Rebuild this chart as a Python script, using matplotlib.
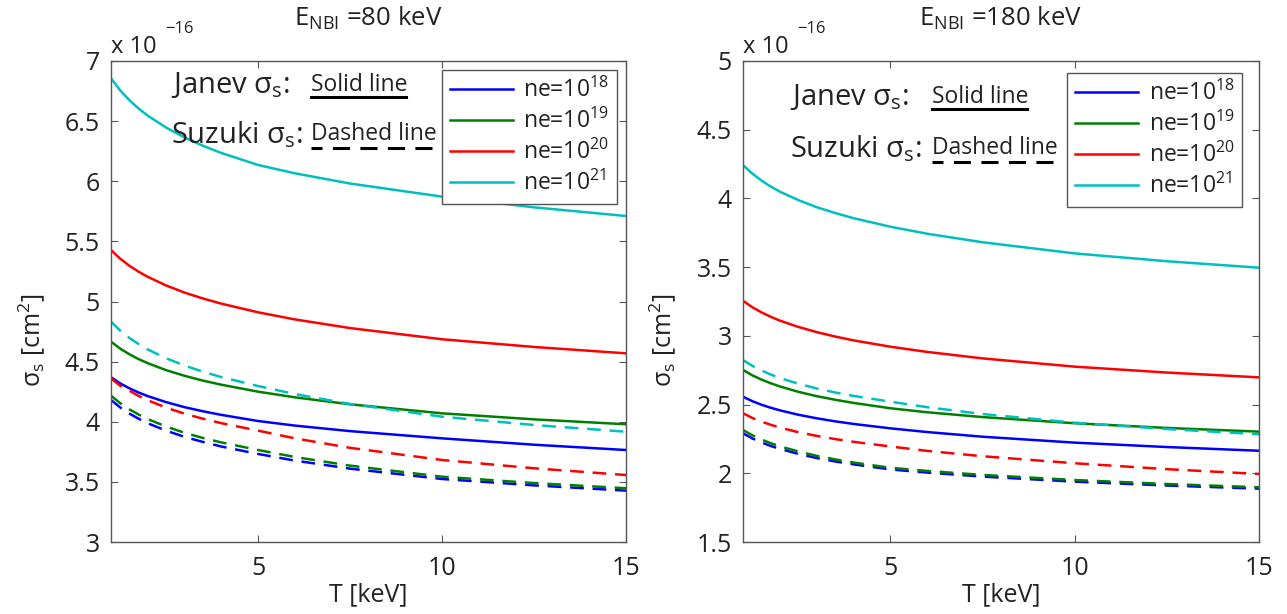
import numpy as np
import matplotlib
matplotlib.use('Agg')
import matplotlib.pyplot as plt
from matplotlib.lines import Line2D

plt.rcParams['font.family'] = ['Open Sans', 'DejaVu Sans']
plt.rcParams['mathtext.fontset'] = 'custom'
plt.rcParams['mathtext.rm'] = 'Open Sans'
plt.rcParams['mathtext.it'] = 'Open Sans:italic'
plt.rcParams['mathtext.default'] = 'regular'

# Temperature grid [keV] and cross sections [x 1e-16 cm^2]
T = [1, 1.25, 1.5, 1.75, 2, 2.5, 3, 3.5, 4, 5, 6, 7.5, 10, 12.5, 15]

# E_NBI = 80 keV, Janev (solid)
janev_80_18 = [4.370, 4.319, 4.278, 4.243, 4.213, 4.163, 4.121, 4.087, 4.057, 4.006, 3.968, 3.922, 3.862, 3.809, 3.765]
janev_80_19 = [4.666, 4.608, 4.561, 4.521, 4.487, 4.429, 4.382, 4.342, 4.308, 4.250, 4.203, 4.145, 4.070, 4.020, 3.979]
janev_80_20 = [5.428, 5.356, 5.297, 5.248, 5.205, 5.133, 5.074, 5.025, 4.982, 4.910, 4.851, 4.779, 4.686, 4.622, 4.569]
janev_80_21 = [6.856, 6.756, 6.674, 6.605, 6.545, 6.446, 6.364, 6.295, 6.235, 6.135, 6.066, 5.981, 5.872, 5.783, 5.711]
# E_NBI = 80 keV, Suzuki (dashed)
suzuki_80_18 = [4.181, 4.119, 4.068, 4.025, 3.987, 3.926, 3.874, 3.832, 3.794, 3.732, 3.677, 3.610, 3.524, 3.471, 3.427]
suzuki_80_19 = [4.217, 4.154, 4.103, 4.060, 4.022, 3.960, 3.908, 3.865, 3.828, 3.765, 3.707, 3.635, 3.543, 3.490, 3.447]
suzuki_80_20 = [4.360, 4.300, 4.258, 4.215, 4.179, 4.117, 4.067, 4.025, 3.988, 3.926, 3.862, 3.783, 3.682, 3.613, 3.557]
suzuki_80_21 = [4.832, 4.758, 4.697, 4.646, 4.601, 4.528, 4.467, 4.416, 4.371, 4.297, 4.230, 4.148, 4.042, 3.973, 3.917]

# E_NBI = 180 keV, Janev (solid)
janev_180_18 = [2.557, 2.525, 2.499, 2.477, 2.458, 2.426, 2.400, 2.378, 2.359, 2.327, 2.300, 2.266, 2.223, 2.191, 2.164]
janev_180_19 = [2.752, 2.713, 2.682, 2.655, 2.632, 2.593, 2.561, 2.535, 2.512, 2.473, 2.444, 2.409, 2.364, 2.330, 2.303]
janev_180_20 = [3.255, 3.209, 3.171, 3.139, 3.111, 3.065, 3.027, 2.995, 2.967, 2.921, 2.883, 2.836, 2.776, 2.733, 2.698]
janev_180_21 = [4.243, 4.181, 4.130, 4.087, 4.049, 3.988, 3.936, 3.894, 3.856, 3.794, 3.743, 3.681, 3.600, 3.543, 3.496]
# E_NBI = 180 keV, Suzuki (dashed)
suzuki_180_18 = [2.291, 2.254, 2.225, 2.199, 2.178, 2.141, 2.111, 2.086, 2.065, 2.028, 2.005, 1.976, 1.939, 1.911, 1.888]
suzuki_180_19 = [2.315, 2.277, 2.246, 2.219, 2.196, 2.159, 2.127, 2.101, 2.078, 2.040, 2.017, 1.988, 1.951, 1.922, 1.898]
suzuki_180_20 = [2.437, 2.403, 2.376, 2.353, 2.333, 2.299, 2.272, 2.249, 2.229, 2.195, 2.163, 2.124, 2.073, 2.030, 1.995]
suzuki_180_21 = [2.824, 2.782, 2.748, 2.719, 2.693, 2.652, 2.617, 2.588, 2.563, 2.521, 2.481, 2.431, 2.368, 2.322, 2.284]

labels = ['ne=10$^{18}$', 'ne=10$^{19}$', 'ne=10$^{20}$', 'ne=10$^{21}$']
colors = ['#0000ff', '#007f00', '#ff0000', '#00bfbf']

W, H = 1287, 614
fig = plt.figure(figsize=(W / 100, H / 100), dpi=100)
axs = [fig.add_axes([111 / W, 1 - 542 / H, 515 / W, 481 / H]),
       fig.add_axes([743 / W, 1 - 542 / H, 516 / W, 481 / H])]

panels = [
    ([janev_80_18, janev_80_19, janev_80_20, janev_80_21],
     [suzuki_80_18, suzuki_80_19, suzuki_80_20, suzuki_80_21], (3, 7), (0.9825, 0.981), '80'),
    ([janev_180_18, janev_180_19, janev_180_20, janev_180_21],
     [suzuki_180_18, suzuki_180_19, suzuki_180_20, suzuki_180_21], (1.5, 5), (0.968, 0.975), '180'),
]

frame = '#555555'
tcol = '#222222'
for ax, (janev, suzuki, ylim, legpos, energy) in zip(axs, panels):
    handles = []
    for i in range(4):
        h, = ax.plot(T, janev[i], color=colors[i], lw=1.8, label=labels[i])
        ax.plot(T, suzuki[i], color=colors[i], lw=1.8, ls=(0, (5.5, 3.5)))
        handles.append(h)
    ax.set_xlim(1, 15)
    ax.set_ylim(*ylim)
    ax.set_xticks([5, 10, 15])
    ax.set_yticks(np.arange(ylim[0], ylim[1] + 0.01, 0.5))
    ax.yaxis.set_major_formatter(matplotlib.ticker.FormatStrFormatter('%g'))
    ax.tick_params(direction='in', length=5, width=0.8, color=frame, top=True, right=True,
                   labelsize=18, labelcolor=tcol)
    ax.tick_params(axis='x', pad=10)
    ax.tick_params(axis='y', pad=8)
    for sp in ax.spines.values():
        sp.set_color(frame)
        sp.set_linewidth(1.0)
    ax.set_xlabel('T [keV]', fontsize=18, color=tcol, labelpad=1)
    ax.set_ylabel(r'σ$_{s}$ [cm$^{2}$]', fontsize=18, color=tcol)
    ax.yaxis.set_label_coords(-0.125, 0.42)
    ax.set_title(r'E$_{NBI}$ =' + energy + ' keV', fontsize=18.5, color=tcol, pad=25)
    leg = ax.legend(handles=handles, loc='upper right', fontsize=16.5,
                    bbox_to_anchor=legpos, borderaxespad=0, fancybox=False,
                    handlelength=2.75, handletextpad=0.45, labelspacing=0.25,
                    borderpad=0.35, framealpha=1)
    leg.get_frame().set_edgecolor(frame)
    leg.get_frame().set_linewidth(1.0)
    for t in leg.get_texts():
        t.set_color(tcol)


def ftext(x, y, s, **kw):
    fig.text(x / W, 1 - y / H, s, color=tcol, va='baseline', **kw)


def fline(x0, x1, y, **kw):
    fig.add_artist(Line2D([x0 / W, x1 / W], [1 - y / H, 1 - y / H], color='black', **kw))


# exponent labels
for x0 in (111, 743):
    ftext(x0, 53, 'x 10', fontsize=17)
    ftext(x0 + 54, 33, '\u221216', fontsize=12)

# Janev / Suzuki line-style key
for (x0, xs, y1, y2, xe, xd) in [(171, 311, 93, 143, 406, 434), (790, 932, 105, 157, 1027, 1054)]:
    ftext(x0, y1, r'Janev σ$_{s}$:', fontsize=21)
    ftext(xs, y1 - 2, 'Solid line', fontsize=16.5)
    fline(xs, xe, y1 + 4, lw=2.2)
    ftext(x0, y2, r'Suzuki σ$_{s}$:', fontsize=21)
    ftext(xs, y2 - 3, 'Dashed line', fontsize=16.5)
    fline(xs, xd, y2 + 5, lw=2.2, ls=(2, (5.6, 3.4)))

fig.savefig('out.png', dpi=100)
